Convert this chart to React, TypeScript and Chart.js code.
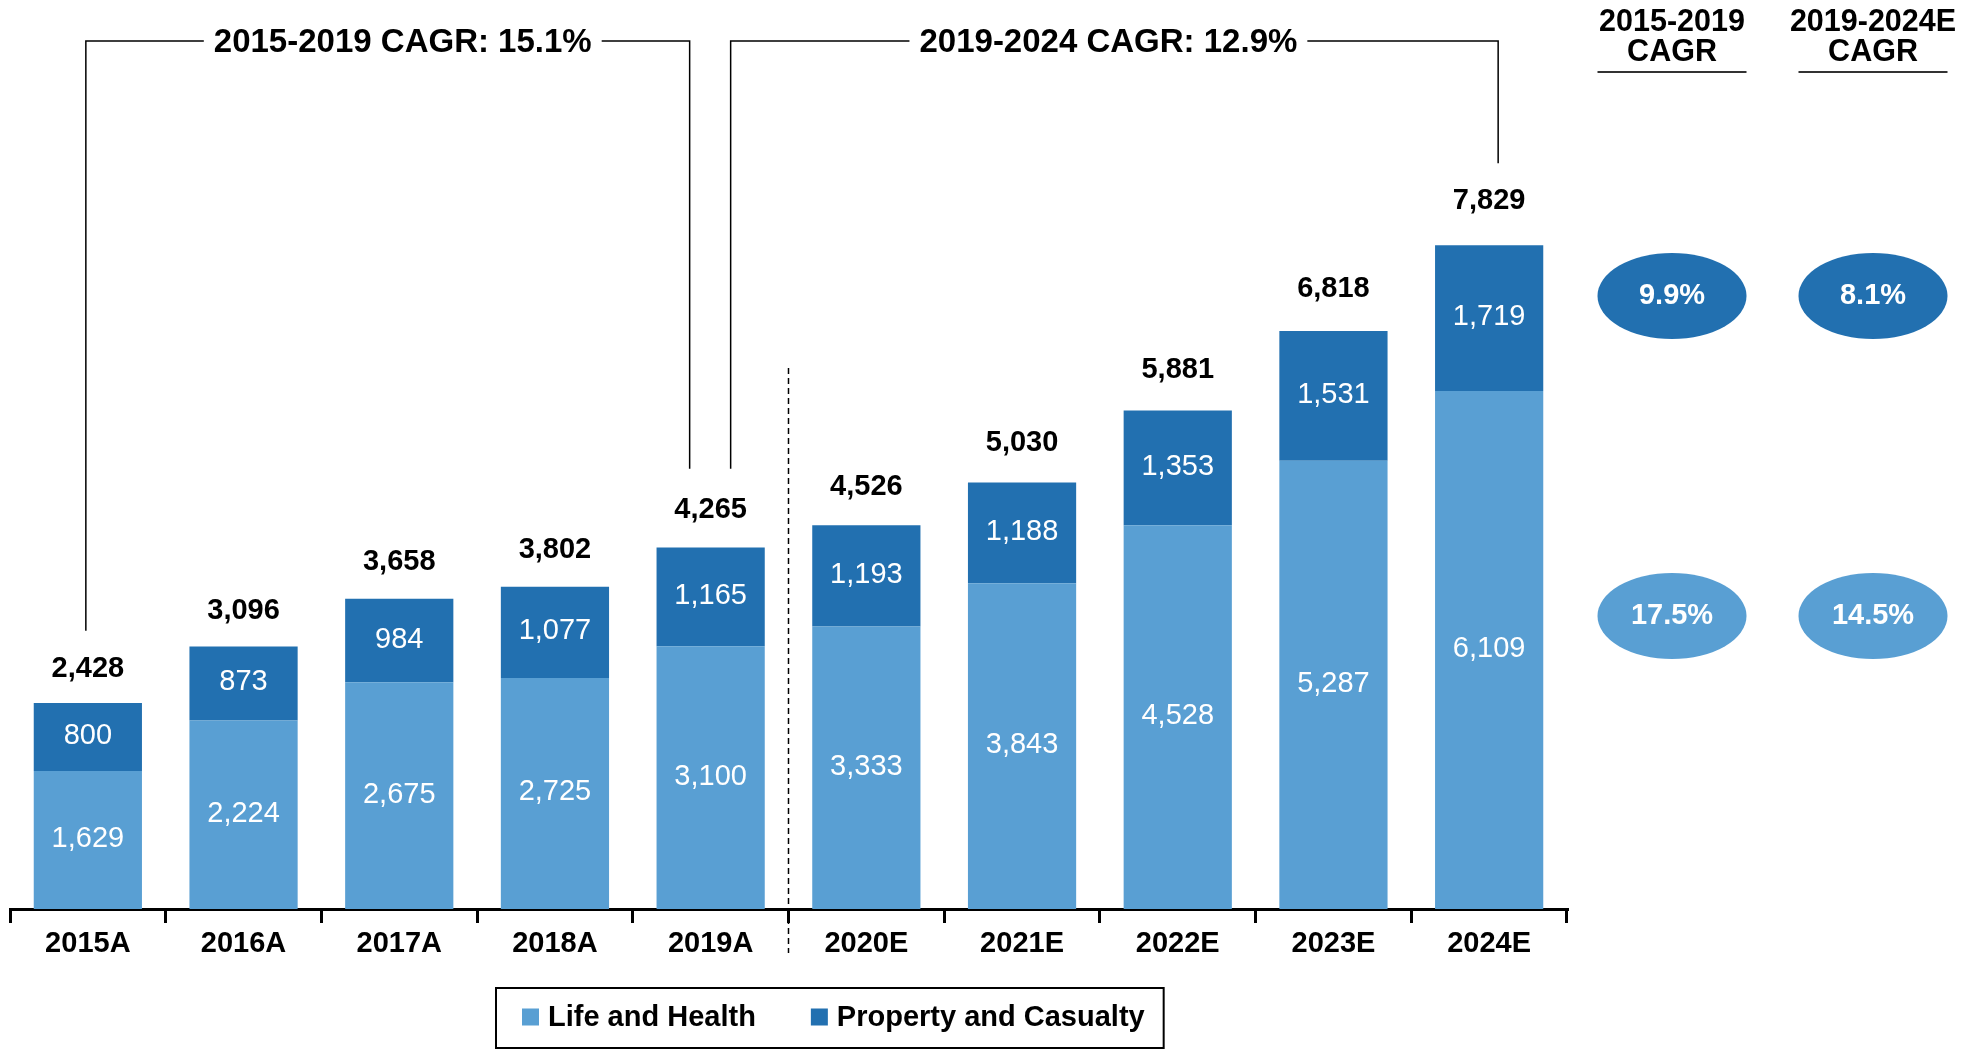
import React, { useEffect, useRef } from 'react';
import { Chart, registerables } from 'chart.js';

Chart.register(...registerables);

// ---------- data ----------
const categories = ['2015A', '2016A', '2017A', '2018A', '2019A', '2020E', '2021E', '2022E', '2023E', '2024E'];
const lifeAndHealth = [1629, 2224, 2675, 2725, 3100, 3333, 3843, 4528, 5287, 6109];
const propertyAndCasualty = [800, 873, 984, 1077, 1165, 1193, 1188, 1353, 1531, 1719];
const totals = [2428, 3096, 3658, 3802, 4265, 4526, 5030, 5881, 6818, 7829];
const seriesNames = ['Life and Health', 'Property and Casualty'];
const periodCagrLabels = ['2015-2019 CAGR: 15.1%', '2019-2024 CAGR: 12.9%'];
const cagrHeaders = [['2015-2019', 'CAGR'], ['2019-2024E', 'CAGR']];
const propertyCagr = ['9.9%', '8.1%'];
const lifeCagr = ['17.5%', '14.5%'];

// ---------- style ----------
const LIGHT = '#599fd3';
const DARK = '#2270b0';
const FONT = '"Liberation Sans", Arial, Helvetica, sans-serif';
const W = 1969;
const H = 1057;

const fmt = (n: number) => n.toLocaleString('en-US');

function totalLabelY(y: any, t: number) {
  return y.getPixelForValue(t * 1.0208) - 30.2;
}

function drawBracket(ctx: CanvasRenderingContext2D, x1: number, y1: number, x2: number, y2: number, lineY: number, text: string, textCx: number) {
  ctx.font = `bold 33px ${FONT}`;
  const w = ctx.measureText(text).width;
  ctx.strokeStyle = '#000';
  ctx.lineWidth = 1.5;
  ctx.setLineDash([]);
  ctx.beginPath();
  ctx.moveTo(x1, y1);
  ctx.lineTo(x1, lineY);
  ctx.lineTo(textCx - w / 2 - 10, lineY);
  ctx.moveTo(textCx + w / 2 + 10, lineY);
  ctx.lineTo(x2, lineY);
  ctx.lineTo(x2, y2);
  ctx.stroke();
  ctx.fillStyle = '#000';
  ctx.textAlign = 'center';
  ctx.textBaseline = 'middle';
  ctx.fillText(text, textCx, lineY + 1.5);
}

const overlayPlugin = {
  id: 'overlay',
  afterDatasetsDraw(chart: any) {
    const ctx: CanvasRenderingContext2D = chart.ctx;
    const xs = chart.scales.x;
    const ys = chart.scales.y;
    ctx.save();

    // segment labels
    ctx.font = `29px ${FONT}`;
    ctx.fillStyle = '#fff';
    ctx.textAlign = 'center';
    ctx.textBaseline = 'middle';
    chart.data.datasets.forEach((ds: any, di: number) => {
      const meta = chart.getDatasetMeta(di);
      meta.data.forEach((bar: any, i: number) => {
        const p = bar.getProps(['x', 'y', 'base'], true);
        ctx.fillText(fmt(ds.data[i]), p.x, (p.y + p.base) / 2 - 1);
      });
    });

    // totals
    ctx.font = `bold 29px ${FONT}`;
    ctx.fillStyle = '#000';
    totals.forEach((t, i) => {
      ctx.fillText(fmt(t), xs.getPixelForValue(i), totalLabelY(ys, t));
    });

    // dashed separator between actual and estimate
    const sepX = (xs.getPixelForValue(4) + xs.getPixelForValue(5)) / 2;
    ctx.strokeStyle = '#000';
    ctx.lineWidth = 1.5;
    ctx.setLineDash([6, 4]);
    ctx.beginPath();
    ctx.moveTo(sepX, 368);
    ctx.lineTo(sepX, 953);
    ctx.stroke();
    ctx.setLineDash([]);

    // brackets
    const lineY = 41;
    const b1x1 = xs.getPixelForValue(0) - 2;
    const b1x2 = xs.getPixelForValue(4) - 21;
    drawBracket(ctx, b1x1, totalLabelY(ys, totals[0]) - 38, b1x2, totalLabelY(ys, totals[4]) - 41,
      lineY, periodCagrLabels[0], (b1x1 + b1x2) / 2 + 15);
    const b2x1 = xs.getPixelForValue(4) + 20;
    const b2x2 = xs.getPixelForValue(9) + 9;
    drawBracket(ctx, b2x1, totalLabelY(ys, totals[4]) - 41, b2x2, totalLabelY(ys, totals[9]) - 38,
      lineY, periodCagrLabels[1], (b2x1 + b2x2) / 2 - 6);

    ctx.restore();
  },
  afterDraw(chart: any) {
    const ctx: CanvasRenderingContext2D = chart.ctx;
    ctx.save();

    // CAGR panel
    const colX = [1672, 1873];
    const rx = 74.5;
    const ry = 43;
    colX.forEach((cx, c) => {
      ctx.fillStyle = '#000';
      ctx.textAlign = 'center';
      ctx.textBaseline = 'middle';
      ctx.font = `bold 30.5px ${FONT}`;
      ctx.fillText(cagrHeaders[c][0], cx, 23);
      ctx.fillText(cagrHeaders[c][1], cx, 53);
      ctx.strokeStyle = '#333';
      ctx.lineWidth = 2;
      ctx.beginPath();
      ctx.moveTo(cx - rx, 72);
      ctx.lineTo(cx + rx, 72);
      ctx.stroke();

      const rows: [number, string, string][] = [
        [296, DARK, propertyCagr[c]],
        [616, LIGHT, lifeCagr[c]],
      ];
      rows.forEach(([cy, color, txt]) => {
        ctx.fillStyle = color;
        ctx.beginPath();
        ctx.ellipse(cx, cy, rx, ry, 0, 0, Math.PI * 2);
        ctx.fill();
        ctx.fillStyle = '#fff';
        ctx.font = `bold 29px ${FONT}`;
        ctx.fillText(txt, cx, cy);
      });
    });

    // legend
    const colors = chart.data.datasets.map((d: any) => d.backgroundColor);
    const labels = chart.data.datasets.map((d: any) => d.label);
    ctx.font = `bold 29px ${FONT}`;
    const boxLeft = 496;
    const boxTop = 988;
    const boxH = 60;
    const midY = boxTop + boxH / 2;
    let cursor = boxLeft + 26;
    const sq = 17;
    labels.forEach((lab: string, i: number) => {
      ctx.fillStyle = colors[i];
      ctx.fillRect(cursor, midY - sq / 2 - 1, sq, sq);
      cursor += 26;
      ctx.fillStyle = '#000';
      ctx.textAlign = 'left';
      ctx.textBaseline = 'middle';
      ctx.fillText(lab, cursor, midY);
      cursor += ctx.measureText(lab).width;
      if (i < labels.length - 1) cursor += 55;
    });
    const boxRight = cursor + 19;
    ctx.strokeStyle = '#000';
    ctx.lineWidth = 2;
    ctx.strokeRect(boxLeft, boxTop, boxRight - boxLeft, boxH);

    ctx.restore();
  },
};

export default function App() {
  const ref = useRef<HTMLCanvasElement | null>(null);

  useEffect(() => {
    document.body.style.margin = '0';
    document.body.style.overflow = 'hidden';
    if (!ref.current) return;
    const chart = new Chart(ref.current, {
      type: 'bar',
      data: {
        labels: categories,
        datasets: [
          { label: seriesNames[0], data: lifeAndHealth, backgroundColor: LIGHT, categoryPercentage: 1, barPercentage: 0.695 },
          { label: seriesNames[1], data: propertyAndCasualty, backgroundColor: DARK, categoryPercentage: 1, barPercentage: 0.695 },
        ],
      },
      options: {
        animation: false,
        responsive: true,
        maintainAspectRatio: false,
        layout: { padding: { left: 10, right: 402, top: 146, bottom: 0 } },
        plugins: {
          legend: { display: false },
          tooltip: { enabled: false },
          title: { display: false },
        },
        scales: {
          x: {
            stacked: true,
            offset: true,
            grid: {
              display: true,
              offset: true,
              drawOnChartArea: false,
              drawTicks: true,
              tickLength: 14,
              color: '#000',
              lineWidth: 3,
            },
            border: { display: true, color: '#000', width: 3 },
            ticks: {
              color: '#000',
              font: { family: FONT, size: 29, weight: 'bold' },
              padding: 4,
              maxRotation: 0,
              autoSkip: false,
            },
            afterFit: (s: any) => {
              s.height = 148;
            },
          },
          y: { stacked: true, display: false, min: 0, max: 9000 },
        },
      },
      plugins: [overlayPlugin],
    } as any);
    return () => chart.destroy();
  }, []);

  return (
    <div style={{ width: W, height: H, position: 'relative' }}>
      <canvas ref={ref} />
    </div>
  );
}
